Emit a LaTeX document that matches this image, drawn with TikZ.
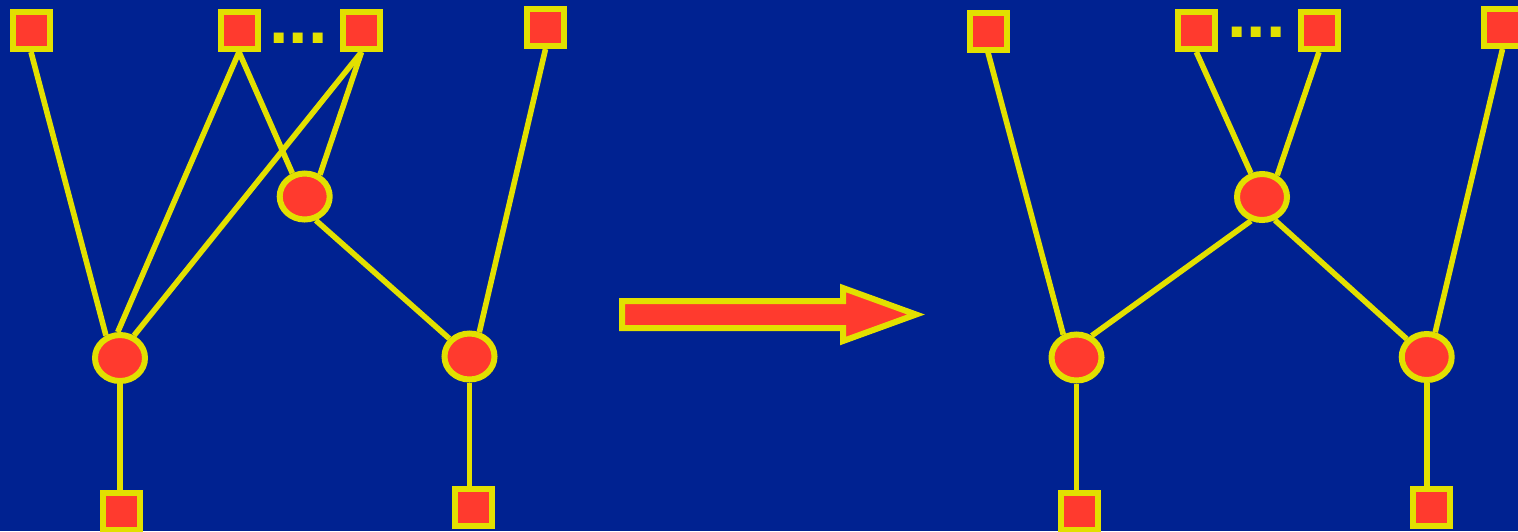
\documentclass[tikz,border=0pt]{standalone}
\usepackage{fontspec}
\usepackage{tikz}
\usetikzlibrary{shapes.geometric}
\newfontfamily\dotsfont{Liberation Sans}
\definecolor{slideblue}{RGB}{0,34,145}
\definecolor{nodered}{RGB}{255,58,46}
\definecolor{nodeyellow}{RGB}{226,224,0}
\pgfdeclarelayer{back}
\pgfdeclarelayer{links}
\pgfsetlayers{back,links,main}
\tikzset{
box/.style={rectangle,draw=nodeyellow,fill=nodered,line width=3pt,minimum size=18.5pt,inner sep=0pt},
joint/.style={ellipse,draw=nodeyellow,fill=nodered,line width=3pt,minimum width=25pt,minimum height=23pt,inner sep=0pt},
link/.style={draw=nodeyellow,line width=2.8pt},
more/.style={text=nodeyellow,font=\dotsfont\bfseries\fontsize{35pt}{35pt}\selectfont,inner sep=0pt,anchor=base west},
bigarrow/.style={draw=nodeyellow,fill=nodered,line width=3pt,miter limit=10}
}
\begin{document}
\begin{tikzpicture}[x=0.5pt,y=-0.5pt]
\useasboundingbox (0,0) rectangle (1518,531);
\begin{pgfonlayer}{back}
\fill[slideblue] (0,0) rectangle (1518,531);
\end{pgfonlayer}

% left graph
\node[box] (l1) at (31,30.5) {};
\node[box] (l2) at (239,30.5) {};
\node[box] (l3) at (361.5,30.5) {};
\node[box] (l4) at (545.5,27.5) {};
\node[more] (ldots) at (269,43) {...};
\node[joint] (la) at (120,358) {};
\node[joint] (lb) at (304.7,196.5) {};
\node[joint] (lc) at (469.5,356.5) {};
\node[box] (lb1) at (121.5,511.5) {};
\node[box] (lb2) at (473,507.5) {};
\begin{pgfonlayer}{links}
\draw[link] (l1.south) -- (la.122);
\draw[link] (l2.south) -- (la.95);
\draw[link] (l3.south) -- (la.58);
\draw[link] (l2.south) -- (lb.118);
\draw[link] (l3.south) -- (lb.55);
\draw[link] (lb.-65) -- (lc);
\draw[link] (l4.south) -- (lc.68);
\draw[link] (la) -- (la |- lb1.north);
\draw[link] (lc) -- (lc |- lb2.north);
\end{pgfonlayer}

% transformation arrow
\draw[bigarrow] (622,301) -- (843,301) -- (843,288) -- (916,314.5)
  -- (843,341) -- (843,328) -- (622,328) -- cycle;

% right graph
\node[box] (r1) at (988,31) {};
\node[box] (r2) at (1196.3,30.5) {};
\node[box] (r3) at (1319,30.5) {};
\node[box] (r4) at (1502.5,27.5) {};
\node[more] (rdots) at (1227,37) {...};
\node[joint] (ra) at (1076.5,357.5) {};
\node[joint] (rb) at (1262,197) {};
\node[joint] (rc) at (1426.7,357) {};
\node[box] (rb1) at (1079,511.5) {};
\node[box] (rb2) at (1431,507.5) {};
\begin{pgfonlayer}{links}
\draw[link] (r1.south) -- (ra.120);
\draw[link] (ra.55) -- (rb.-115);
\draw[link] (r2.south) -- (rb.115);
\draw[link] (r3.south) -- (rb.55);
\draw[link] (rb.-61) -- (rc);
\draw[link] (r4.south) -- (rc.71);
\draw[link] (ra) -- (ra |- rb1.north);
\draw[link] (rc) -- (rc |- rb2.north);
\end{pgfonlayer}
\end{tikzpicture}
\end{document}
